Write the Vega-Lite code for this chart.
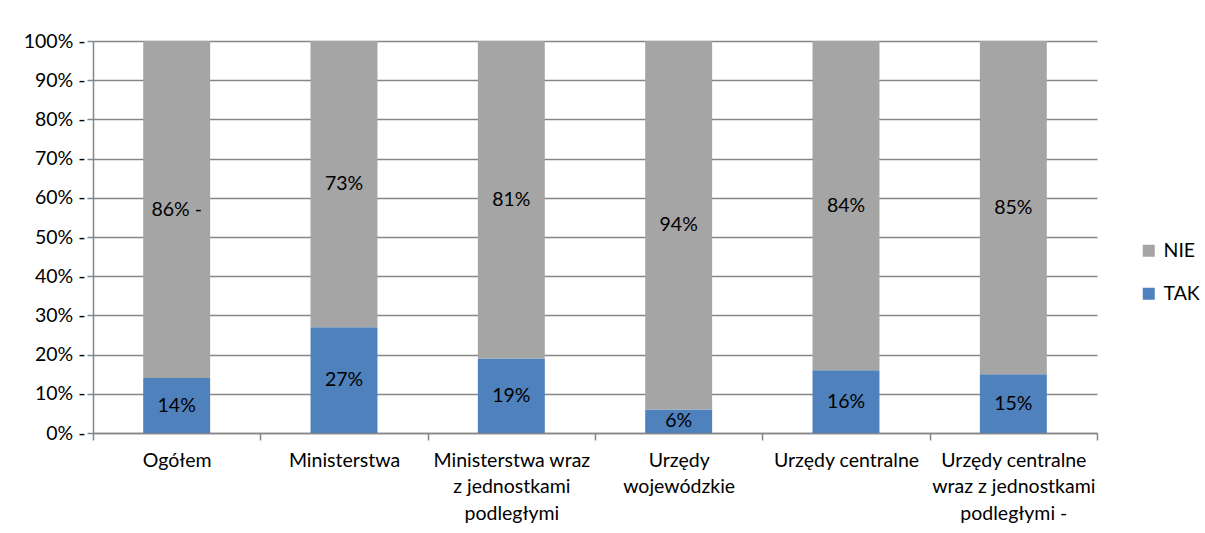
{
  "$schema": "https://vega.github.io/schema/vega-lite/v6.json",
  "width": 1004,
  "height": 392,
  "autosize": {"type": "none"},
  "padding": {"left": 93, "top": 41, "right": 108, "bottom": 100},
  "background": "white",
  "config": {
    "font": "Lato",
    "view": {"stroke": null},
    "axis": {
      "labelFont": "Lato",
      "labelFontSize": 19.5,
      "labelColor": "#000000",
      "domainColor": "#868686",
      "domainWidth": 1.5,
      "tickColor": "#868686",
      "tickWidth": 1.5,
      "gridColor": "#868686",
      "gridWidth": 1.5,
      "title": null
    },
    "axisY": {
      "values": [0, 0.1, 0.2, 0.3, 0.4, 0.5, 0.6, 0.7, 0.8, 0.9, 1],
      "format": ".0%",
      "labelExpr": "datum.label + ' -'",
      "tickSize": 6,
      "labelPadding": 2,
      "grid": true
    }
  },
  "data": {
    "values": [
      {"grupa": "Ogółem", "odp": "TAK", "udzial": 0.14, "etykieta": "14%"},
      {"grupa": "Ogółem", "odp": "NIE", "udzial": 0.86, "etykieta": "86% -"},
      {"grupa": "Ministerstwa", "odp": "TAK", "udzial": 0.27, "etykieta": "27%"},
      {"grupa": "Ministerstwa", "odp": "NIE", "udzial": 0.73, "etykieta": "73%"},
      {"grupa": "Ministerstwa wraz z jednostkami podległymi", "odp": "TAK", "udzial": 0.19, "etykieta": "19%"},
      {"grupa": "Ministerstwa wraz z jednostkami podległymi", "odp": "NIE", "udzial": 0.81, "etykieta": "81%"},
      {"grupa": "Urzędy wojewódzkie", "odp": "TAK", "udzial": 0.06, "etykieta": "6%"},
      {"grupa": "Urzędy wojewódzkie", "odp": "NIE", "udzial": 0.94, "etykieta": "94%"},
      {"grupa": "Urzędy centralne", "odp": "TAK", "udzial": 0.16, "etykieta": "16%"},
      {"grupa": "Urzędy centralne", "odp": "NIE", "udzial": 0.84, "etykieta": "84%"},
      {"grupa": "Urzędy centralne wraz z jednostkami podległymi", "odp": "TAK", "udzial": 0.15, "etykieta": "15%"},
      {"grupa": "Urzędy centralne wraz z jednostkami podległymi", "odp": "NIE", "udzial": 0.85, "etykieta": "85%"}
    ]
  },
  "transform": [
    {
      "stack": "udzial",
      "groupby": ["grupa"],
      "sort": [{"field": "odp", "order": "descending"}],
      "as": ["y0", "y1"]
    }
  ],
  "encoding": {
    "x": {
      "field": "grupa",
      "type": "nominal",
      "sort": [
        "Ogółem",
        "Ministerstwa",
        "Ministerstwa wraz z jednostkami podległymi",
        "Urzędy wojewódzkie",
        "Urzędy centralne",
        "Urzędy centralne wraz z jednostkami podległymi"
      ],
      "scale": {"paddingInner": 0, "paddingOuter": 0},
      "axis": {
        "labelAngle": 0,
        "tickBand": "extent",
        "tickSize": 7,
        "labelPadding": 11,
        "labelLineHeight": 26.5,
        "labelLimit": 300,
        "labelExpr": "datum.value == 'Ministerstwa wraz z jednostkami podległymi' ? ['Ministerstwa wraz', 'z jednostkami', 'podległymi'] : datum.value == 'Urzędy wojewódzkie' ? ['Urzędy', 'wojewódzkie'] : datum.value == 'Urzędy centralne wraz z jednostkami podległymi' ? ['Urzędy centralne', 'wraz z jednostkami', 'podległymi -'] : datum.label"
      }
    }
  },
  "layer": [
    {
      "mark": {"type": "bar", "width": {"band": 0.4}},
      "encoding": {
        "y": {
          "field": "y0",
          "type": "quantitative",
          "scale": {"domain": [0, 1]}
        },
        "y2": {"field": "y1"},
        "color": {
          "field": "odp",
          "type": "nominal",
          "scale": {"domain": ["NIE", "TAK"], "range": ["#A5A5A5", "#4F81BD"]},
          "legend": {
            "title": null,
            "orient": "none",
            "legendX": 1046,
            "legendY": 200,
            "symbolType": "square",
            "symbolSize": 144,
            "symbolStrokeWidth": 0,
            "labelFont": "Lato",
            "labelFontSize": 19.5,
            "labelColor": "#000000",
            "labelOffset": 5,
            "rowPadding": 22
          }
        }
      }
    },
    {
      "transform": [
        {"fold": ["y0", "y1"], "as": ["koniec", "poziom"]},
        {
          "aggregate": [{"op": "mean", "field": "poziom", "as": "srodek"}],
          "groupby": ["grupa", "odp", "etykieta"]
        }
      ],
      "mark": {"type": "text", "fontSize": 19.5, "font": "Lato", "color": "#000000"},
      "encoding": {
        "y": {"field": "srodek", "type": "quantitative"},
        "text": {"field": "etykieta"}
      }
    }
  ]
}
